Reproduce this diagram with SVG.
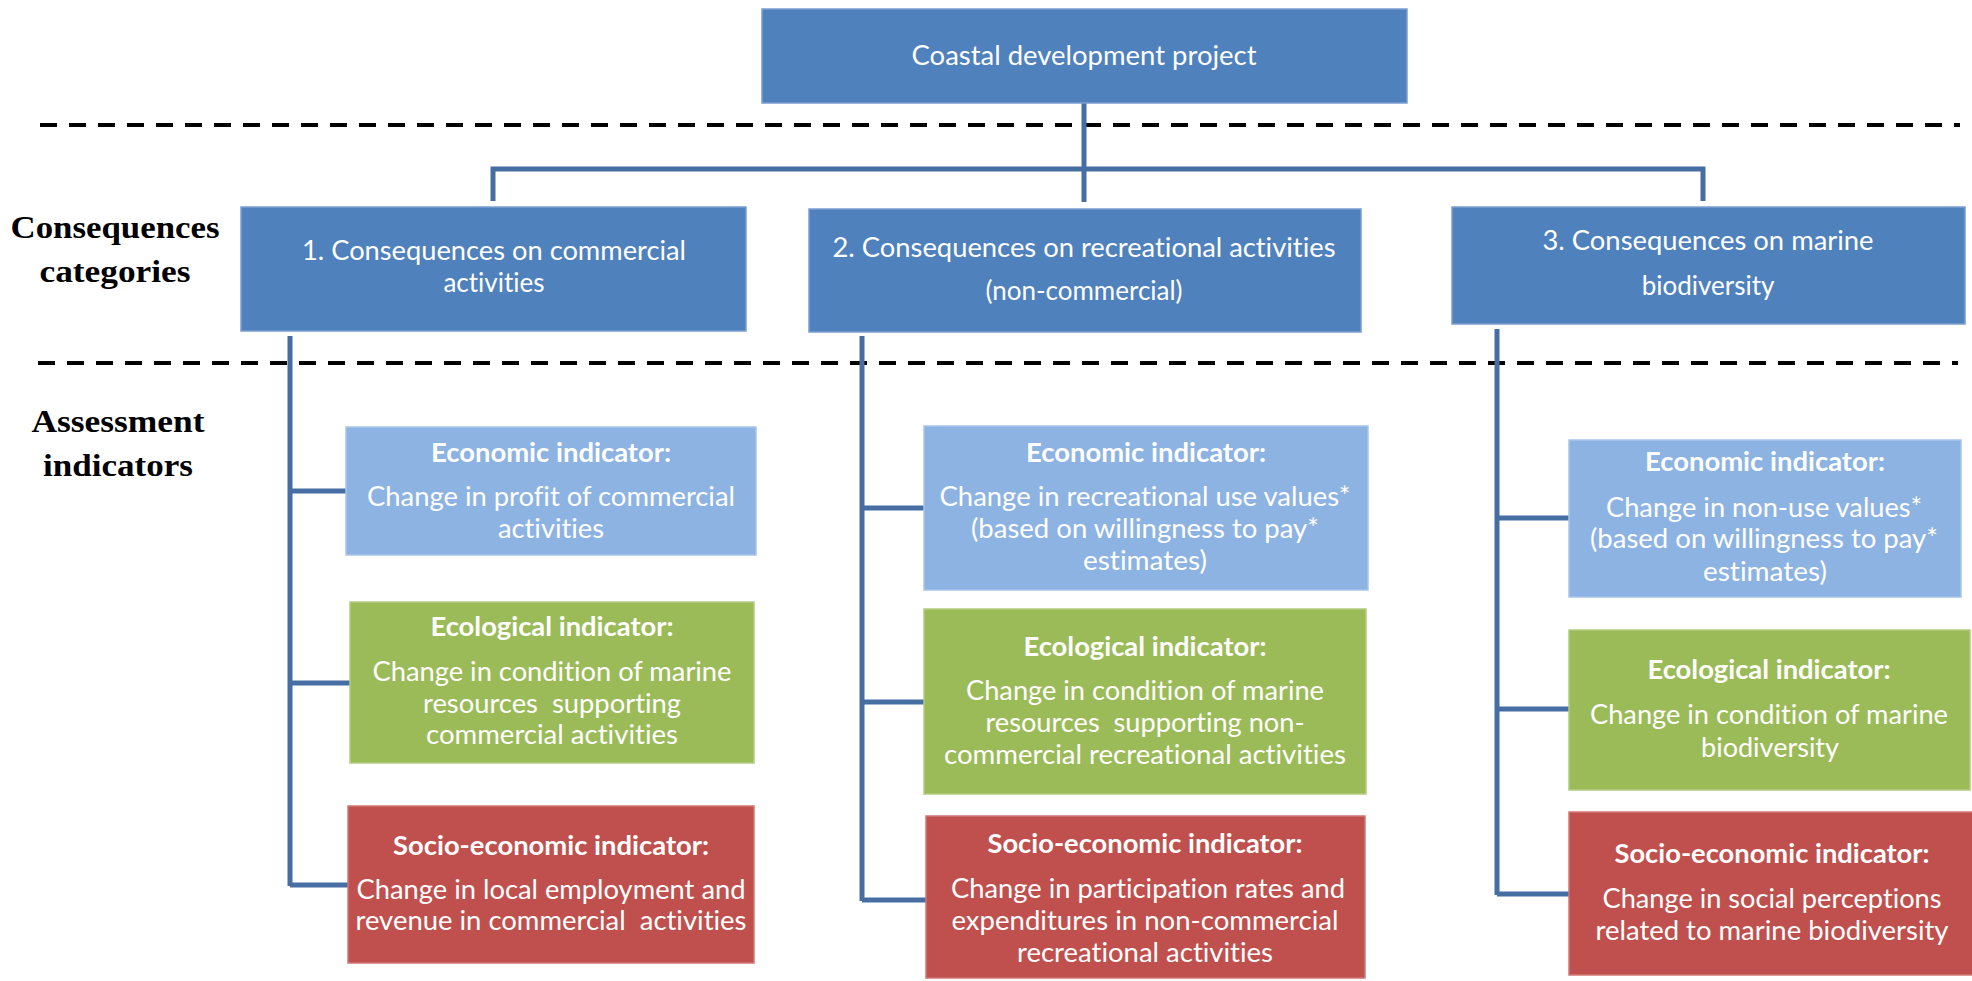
<svg xmlns="http://www.w3.org/2000/svg" width="1972" height="981" viewBox="0 0 1972 981">
<style>
.dash{stroke:#000;stroke-width:4;stroke-dasharray:17 12;fill:none}
.con{stroke:#466ea3;stroke-width:5;fill:none;stroke-linecap:butt}
.cat{fill:#4f81bd;stroke:#7c9ed0;stroke-width:1.5}
.eco{fill:#8db3e2;stroke:#a9c5ea;stroke-width:1.5}
.ecl{fill:#9bbb59;stroke:#b3cc80;stroke-width:1.5}
.soc{fill:#c0504d;stroke:#cf7775;stroke-width:1.5}
.t{font-family:Lato,"Open Sans",sans-serif;font-size:26px;fill:#fff;text-anchor:middle;font-variant-ligatures:none;white-space:pre}
.h{font-family:Lato,"Open Sans",sans-serif;font-size:26px;font-weight:bold;fill:#fff;text-anchor:middle;font-variant-ligatures:none}
.lab{font-family:"Liberation Serif",serif;font-size:31px;font-weight:bold;fill:#000;text-anchor:middle}
</style>
<g id="separators">
<line class="dash" x1="40" y1="125" x2="1960" y2="125"/>
<line class="dash" x1="38" y1="363" x2="1958" y2="363"/>
</g>
<g id="labels">
<text class="lab" x="115" y="238" textLength="209" lengthAdjust="spacingAndGlyphs">Consequences</text>
<text class="lab" x="115" y="282" textLength="151" lengthAdjust="spacingAndGlyphs">categories</text>
<text class="lab" x="118" y="432" textLength="173" lengthAdjust="spacingAndGlyphs">Assessment</text>
<text class="lab" x="118" y="476" textLength="150" lengthAdjust="spacingAndGlyphs">indicators</text>
</g>
<g id="connectors">
<polyline class="con" points="1084,103 1084,202"/>
<polyline class="con" points="493,201 493,169 1703,169 1703,201"/>
<polyline class="con" points="290,336 290,886"/>
<polyline class="con" points="290,491 346,491"/>
<polyline class="con" points="290,683 350,683"/>
<polyline class="con" points="290,885 348,885"/>
<polyline class="con" points="862,336 862,901"/>
<polyline class="con" points="862,508 924,508"/>
<polyline class="con" points="862,702 924,702"/>
<polyline class="con" points="862,900 926,900"/>
<polyline class="con" points="1497,329 1497,895"/>
<polyline class="con" points="1497,518 1569,518"/>
<polyline class="con" points="1497,709 1569,709"/>
<polyline class="con" points="1497,894 1569,894"/>
</g>
<g id="project">
<rect class="cat" x="762" y="9" width="645" height="94"/>
<text class="t" x="1084" y="65" textLength="345" lengthAdjust="spacingAndGlyphs">Coastal development project</text>
</g>
<g id="cat1">
<rect class="cat" x="241" y="207" width="505" height="124"/>
<text class="t" x="494" y="260" textLength="384" lengthAdjust="spacingAndGlyphs">1. Consequences on commercial</text>
<text class="t" x="494" y="292">activities</text>
</g>
<g id="cat2">
<rect class="cat" x="809" y="209" width="552" height="123"/>
<text class="t" x="1084" y="257" textLength="503" lengthAdjust="spacingAndGlyphs">2. Consequences on recreational activities</text>
<text class="t" x="1084" y="300">(non-commercial)</text>
</g>
<g id="cat3">
<rect class="cat" x="1452" y="207" width="513" height="117"/>
<text class="t" x="1708" y="250" textLength="331" lengthAdjust="spacingAndGlyphs">3. Consequences on marine</text>
<text class="t" x="1708" y="295">biodiversity</text>
</g>
<g id="econ1">
<rect class="eco" x="346" y="427" width="410" height="128"/>
<text class="h" x="551" y="462" textLength="240" lengthAdjust="spacingAndGlyphs">Economic indicator:</text>
<text class="t" x="551" y="506" textLength="368" lengthAdjust="spacingAndGlyphs">Change in profit of commercial</text>
<text class="t" x="551" y="538" textLength="106" lengthAdjust="spacingAndGlyphs">activities</text>
</g>
<g id="ecol1">
<rect class="ecl" x="350" y="602" width="404" height="161"/>
<text class="h" x="552" y="636" textLength="243" lengthAdjust="spacingAndGlyphs">Ecological indicator:</text>
<text class="t" x="552" y="681" textLength="359" lengthAdjust="spacingAndGlyphs">Change in condition of marine</text>
<text class="t" x="552" y="713" textLength="258" lengthAdjust="spacingAndGlyphs" xml:space="preserve">resources  supporting</text>
<text class="t" x="552" y="744" textLength="252" lengthAdjust="spacingAndGlyphs">commercial activities</text>
</g>
<g id="socio1">
<rect class="soc" x="348" y="806" width="406" height="157"/>
<text class="h" x="551" y="855" textLength="316" lengthAdjust="spacingAndGlyphs">Socio-economic indicator:</text>
<text class="t" x="551" y="899" textLength="389" lengthAdjust="spacingAndGlyphs">Change in local employment and</text>
<text class="t" x="551" y="930" textLength="391" lengthAdjust="spacingAndGlyphs" xml:space="preserve">revenue in commercial  activities</text>
</g>
<g id="econ2">
<rect class="eco" x="924" y="426" width="444" height="164"/>
<text class="h" x="1146" y="462" textLength="240" lengthAdjust="spacingAndGlyphs">Economic indicator:</text>
<text class="t" x="1145" y="506" textLength="411" lengthAdjust="spacingAndGlyphs">Change in recreational use values*</text>
<text class="t" x="1145" y="538" textLength="348" lengthAdjust="spacingAndGlyphs">(based on willingness to pay*</text>
<text class="t" x="1145" y="570" textLength="124" lengthAdjust="spacingAndGlyphs">estimates)</text>
</g>
<g id="ecol2">
<rect class="ecl" x="924" y="609" width="442" height="185"/>
<text class="h" x="1145" y="656" textLength="243" lengthAdjust="spacingAndGlyphs">Ecological indicator:</text>
<text class="t" x="1145" y="700" textLength="358" lengthAdjust="spacingAndGlyphs">Change in condition of marine</text>
<text class="t" x="1145" y="732" textLength="319" lengthAdjust="spacingAndGlyphs" xml:space="preserve">resources  supporting non-</text>
<text class="t" x="1145" y="764" textLength="402" lengthAdjust="spacingAndGlyphs">commercial recreational activities</text>
</g>
<g id="socio2">
<rect class="soc" x="926" y="816" width="439" height="162"/>
<text class="h" x="1145" y="853" textLength="315" lengthAdjust="spacingAndGlyphs">Socio-economic indicator:</text>
<text class="t" x="1148" y="898" textLength="394" lengthAdjust="spacingAndGlyphs">Change in participation rates and</text>
<text class="t" x="1145" y="930" textLength="387" lengthAdjust="spacingAndGlyphs">expenditures in non-commercial</text>
<text class="t" x="1145" y="962" textLength="256" lengthAdjust="spacingAndGlyphs">recreational activities</text>
</g>
<g id="econ3">
<rect class="eco" x="1569" y="440" width="392" height="157"/>
<text class="h" x="1765" y="471" textLength="240" lengthAdjust="spacingAndGlyphs">Economic indicator:</text>
<text class="t" x="1764" y="517" textLength="316" lengthAdjust="spacingAndGlyphs">Change in non-use values*</text>
<text class="t" x="1764" y="548" textLength="348" lengthAdjust="spacingAndGlyphs">(based on willingness to pay*</text>
<text class="t" x="1765" y="581" textLength="124" lengthAdjust="spacingAndGlyphs">estimates)</text>
</g>
<g id="ecol3">
<rect class="ecl" x="1569" y="630" width="401" height="160"/>
<text class="h" x="1769" y="679" textLength="243" lengthAdjust="spacingAndGlyphs">Ecological indicator:</text>
<text class="t" x="1769" y="724" textLength="358" lengthAdjust="spacingAndGlyphs">Change in condition of marine</text>
<text class="t" x="1770" y="757" textLength="138" lengthAdjust="spacingAndGlyphs">biodiversity</text>
</g>
<g id="socio3">
<rect class="soc" x="1569" y="812" width="404" height="163"/>
<text class="h" x="1772" y="863" textLength="315" lengthAdjust="spacingAndGlyphs">Socio-economic indicator:</text>
<text class="t" x="1772" y="908" textLength="339" lengthAdjust="spacingAndGlyphs">Change in social perceptions</text>
<text class="t" x="1772" y="940" textLength="353" lengthAdjust="spacingAndGlyphs">related to marine biodiversity</text>
</g>
</svg>
